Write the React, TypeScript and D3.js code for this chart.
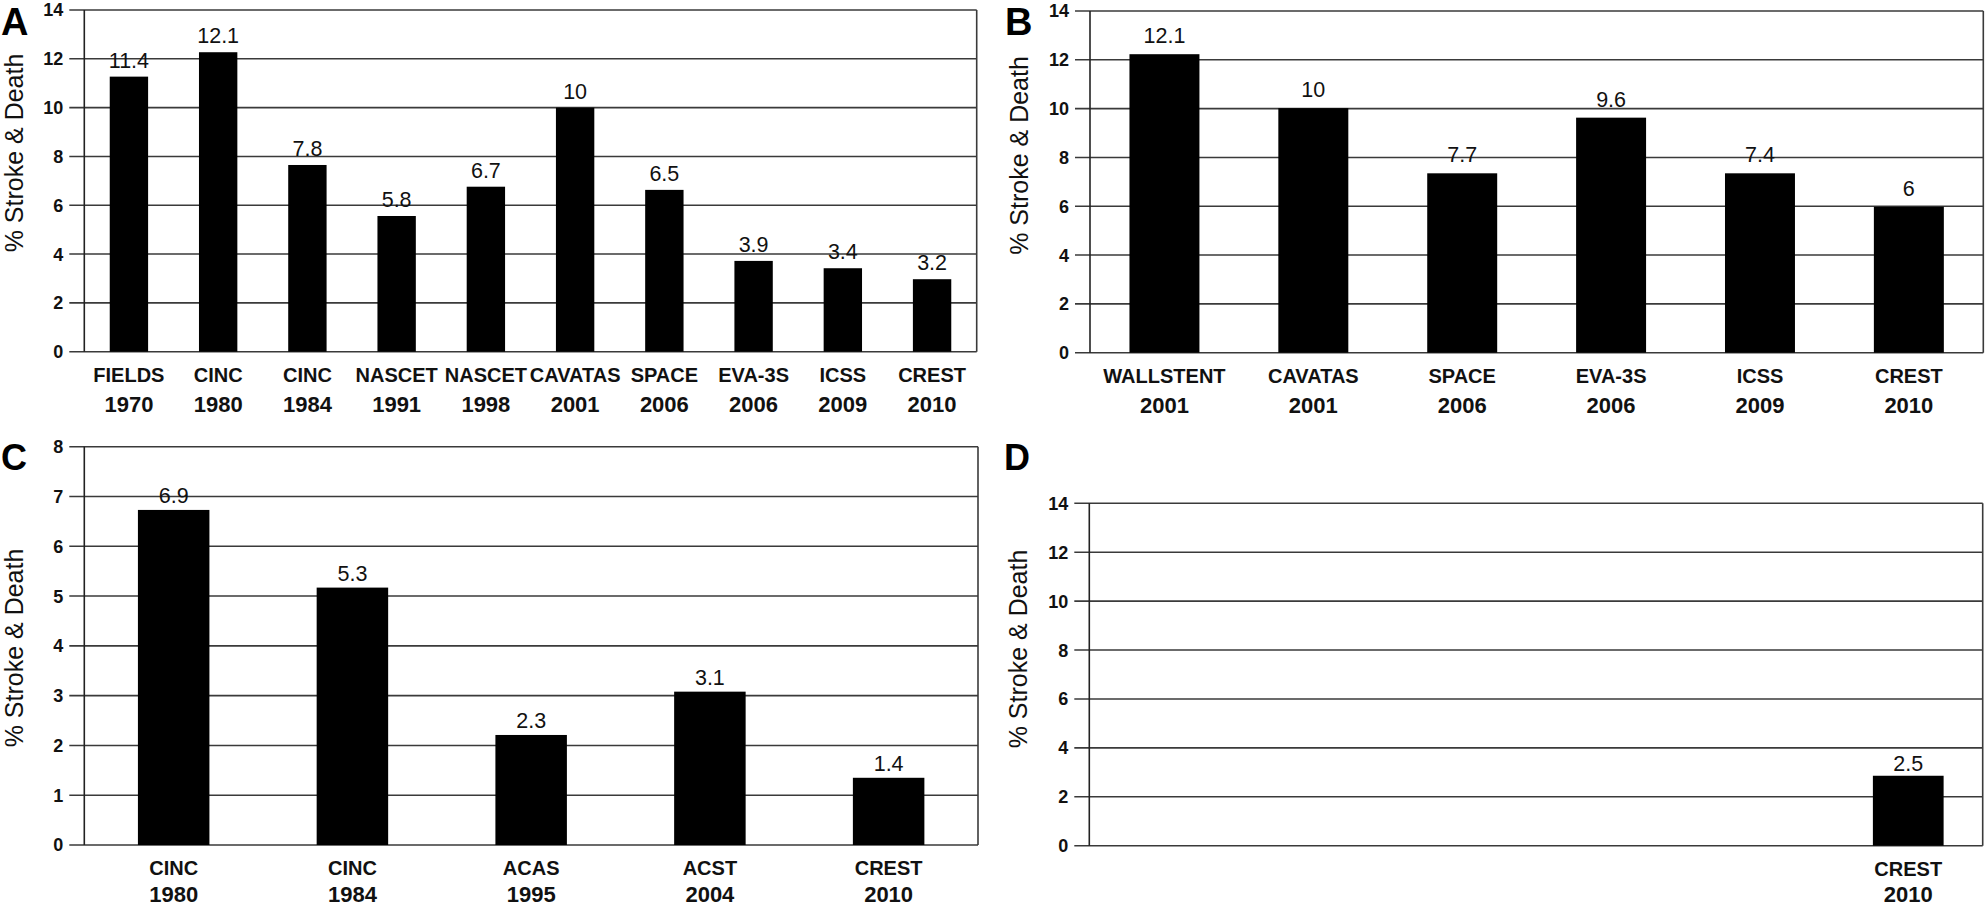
import React from "react";
import * as d3 from "d3";

const FONT = "'Liberation Sans', Arial, Helvetica, sans-serif";

// ---------- Data ----------
const aNames = ["FIELDS", "CINC", "CINC", "NASCET", "NASCET", "CAVATAS", "SPACE", "EVA-3S", "ICSS", "CREST"];
const aYears = ["1970", "1980", "1984", "1991", "1998", "2001", "2006", "2006", "2009", "2010"];
const aValues = [11.27, 12.27, 7.65, 5.56, 6.76, 10.0, 6.63, 3.72, 3.42, 2.97];
const aLabels = ["11.4", "12.1", "7.8", "5.8", "6.7", "10", "6.5", "3.9", "3.4", "3.2"];

const bNames = ["WALLSTENT", "CAVATAS", "SPACE", "EVA-3S", "ICSS", "CREST"];
const bYears = ["2001", "2001", "2006", "2006", "2009", "2010"];
const bValues = [12.23, 10.02, 7.35, 9.63, 7.35, 5.98];
const bLabels = ["12.1", "10", "7.7", "9.6", "7.4", "6"];

const cNames = ["CINC", "CINC", "ACAS", "ACST", "CREST"];
const cYears = ["1980", "1984", "1995", "2004", "2010"];
const cValues = [6.73, 5.17, 2.21, 3.08, 1.35];
const cLabels = ["6.9", "5.3", "2.3", "3.1", "1.4"];

const dNames = ["", "", "", "", "", "CREST"];
const dYears = ["", "", "", "", "", "2010"];
const dValues: (number | null)[] = [null, null, null, null, null, 2.86];
const dLabels = ["", "", "", "", "", "2.5"];

const yTitle = "% Stroke & Death";

type PanelCfg = {
  letter: string;
  letterX: number;
  letterY: number;
  letterSize: number;
  names: string[];
  years: string[];
  values: (number | null)[];
  labels: string[];
  max: number;
  tickCount: number;
  left: number;
  right: number;
  top: number;
  bottom: number;
  pad: number;
  labelGap: number;
  titleX: number;
  titleY: number;
  yearOffset: number;
};

const panels: PanelCfg[] = [
  {
    letter: "A", letterX: 1, letterY: 34.5, letterSize: 38,
    names: aNames, years: aYears, values: aValues, labels: aLabels,
    max: 14, tickCount: 7,
    left: 84.3, right: 976.7, top: 10, bottom: 351.7, pad: 0.57, labelGap: 9,
    titleX: 23, titleY: 153, yearOffset: 60.5,
  },
  {
    letter: "B", letterX: 1005, letterY: 34.5, letterSize: 38,
    names: bNames, years: bYears, values: bValues, labels: bLabels,
    max: 14, tickCount: 7,
    left: 1090, right: 1983.3, top: 11, bottom: 352.7, pad: 0.53, labelGap: 11,
    titleX: 1028, titleY: 155.5, yearOffset: 60,
  },
  {
    letter: "C", letterX: 1, letterY: 470, letterSize: 36,
    names: cNames, years: cYears, values: cValues, labels: cLabels,
    max: 8, tickCount: 8,
    left: 84.3, right: 978, top: 446.7, bottom: 845, pad: 0.6, labelGap: 7,
    titleX: 23, titleY: 648, yearOffset: 57,
  },
  {
    letter: "D", letterX: 1004, letterY: 470, letterSize: 36,
    names: dNames, years: dYears, values: dValues, labels: dLabels,
    max: 14, tickCount: 7,
    left: 1089.3, right: 1982.7, top: 503.3, bottom: 845.7, pad: 0.525, labelGap: 5,
    titleX: 1027, titleY: 649, yearOffset: 56.5,
  },
];

const GRID = "#3a3a3a";

function BarPanel({ p }: { p: PanelCfg }) {
  const x = d3
    .scaleBand<number>()
    .domain(d3.range(p.values.length))
    .range([p.left, p.right])
    .paddingInner(p.pad)
    .paddingOuter(p.pad / 2);
  const y = d3.scaleLinear().domain([0, p.max]).range([p.bottom, p.top]);
  const ticks = y.ticks(p.tickCount);
  const bw = x.bandwidth();

  return (
    <g>
      <text x={p.letterX} y={p.letterY} fontFamily={FONT} fontWeight="bold" fontSize={p.letterSize} fill="#000">
        {p.letter}
      </text>
      <text
        transform={`translate(${p.titleX},${p.titleY}) rotate(-90)`}
        textAnchor="middle"
        fontFamily={FONT}
        fontSize={25}
        fill="#111"
      >
        {yTitle}
      </text>
      {ticks.map((t) => (
        <g key={t}>
          <line x1={p.left - 15} x2={p.right} y1={y(t)} y2={y(t)} stroke={GRID} strokeWidth={1.6} />
          <text
            x={p.left - 21}
            y={y(t)}
            dy="0.36em"
            textAnchor="end"
            fontFamily={FONT}
            fontWeight="bold"
            fontSize={18}
            fill="#111"
          >
            {t}
          </text>
        </g>
      ))}
      <line x1={p.left} x2={p.left} y1={y(p.max)} y2={y(0)} stroke="#222" strokeWidth={1.6} />
      <line x1={p.right} x2={p.right} y1={y(p.max)} y2={y(0)} stroke={GRID} strokeWidth={1.6} />
      {p.values.map((v, i) =>
        v == null ? null : (
          <g key={i}>
            <rect x={x(i)} y={y(v)} width={bw} height={y(0) - y(v)} fill="#000" />
            <text
              x={(x(i) as number) + bw / 2}
              y={y(v) - p.labelGap}
              textAnchor="middle"
              fontFamily={FONT}
              fontSize={21.5}
              fill="#111"
            >
              {p.labels[i]}
            </text>
          </g>
        )
      )}
      {p.names.map((n, i) => (
        <g key={"c" + i}>
          <text
            x={(x(i) as number) + bw / 2}
            y={y(0) + 30}
            textAnchor="middle"
            fontFamily={FONT}
            fontWeight="bold"
            fontSize={20}
            fill="#111"
          >
            {n}
          </text>
          <text
            x={(x(i) as number) + bw / 2}
            y={y(0) + p.yearOffset}
            textAnchor="middle"
            fontFamily={FONT}
            fontWeight="bold"
            fontSize={22}
            fill="#111"
          >
            {p.years[i]}
          </text>
        </g>
      ))}
    </g>
  );
}

export default function App() {
  return (
    <svg
      width={1985}
      height={907}
      style={{ position: "absolute", left: 0, top: 0, background: "#fff" }}
    >
      <rect x={0} y={0} width={1985} height={907} fill="#fff" />
      {panels.map((p) => (
        <BarPanel key={p.letter} p={p} />
      ))}
    </svg>
  );
}
